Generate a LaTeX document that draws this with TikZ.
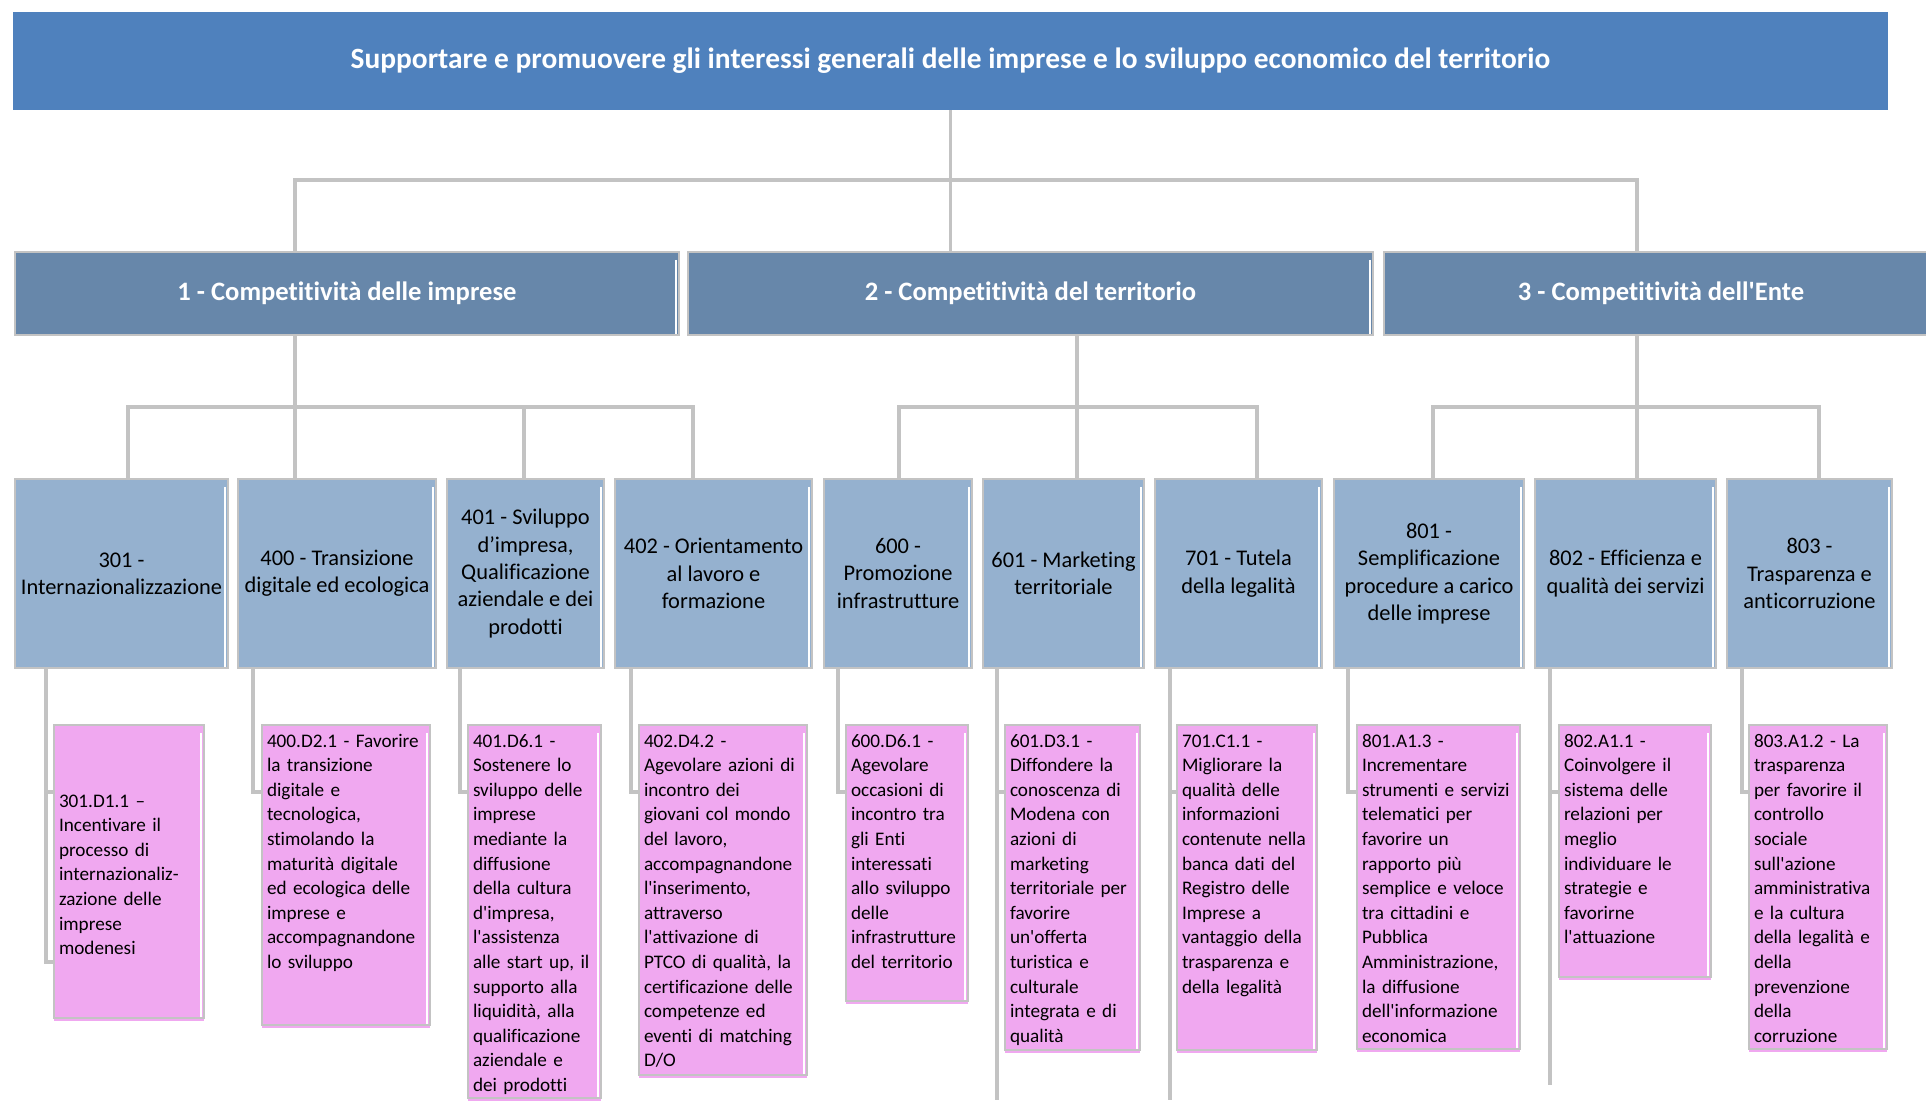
\documentclass[tikz,border=0pt]{standalone}
\usepackage{fontspec}
\newfontfamily\calib{Carlito}[Ligatures=NoCommon]
\usetikzlibrary{shadows}
\definecolor{goalblue}{HTML}{4F81BD}
\definecolor{areablue}{HTML}{6787AA}
\definecolor{progblue}{HTML}{95B1CF}
\definecolor{objpink}{HTML}{F0A8F0}
\definecolor{linegray}{HTML}{C3C3C3}

\begin{document}
\begin{tikzpicture}[x=0.5pt,y=-0.5pt,
                    every node/.style={inner sep=0pt, outer sep=0pt},
                    glint/.style={path picture={\draw[white, line width=0.8pt]
                                 ([xshift=-1.6pt,yshift=-4pt]path picture bounding box.north east) -- ([xshift=-1.6pt]path picture bounding box.south east);}},
                    goal/.style={anchor=north west, fill=goalblue, text=white, minimum width=937.5pt, minimum height=49pt,
                                 font=\calib\bfseries\fontsize{14.7}{17}\selectfont},
                    area/.style={anchor=north west, fill=areablue, draw=linegray, line width=1.2pt, text=white, minimum height=41.5pt,
                                 glint, font=\calib\bfseries\fontsize{13.3}{16}\selectfont},
                    prog/.style={anchor=north west, fill=progblue, draw=linegray, line width=1.2pt, align=center, minimum height=94.5pt,
                                 glint, font=\calib\fontsize{11.2}{13.7}\selectfont},
                    obj/.style 2 args={anchor=north west, fill=objpink, draw=linegray, line width=1.2pt, align=left,
                                 inner xsep=2.5pt, text width=#1, text height=11pt, text depth=#2, glint,
                                 font=\calib\fontsize{9.6}{12.3}\selectfont,
                                 drop shadow={shadow xshift=0pt, shadow yshift=-1.5pt, fill=objpink, opacity=1}},
                    conn/.style={draw=linegray, line width=1.7pt}]
\useasboundingbox (0,0) rectangle (1926,1100);

\node[goal] (goal) at (13,12) {Supportare e promuovere gli interessi generali delle imprese e lo sviluppo economico del territorio};

\node[area, minimum width=332pt] (A1) at (15,252) {1 - Competitività delle imprese};
\node[area, minimum width=342.5pt] (A2) at (688,252) {2 - Competitività del territorio};
\node[area, minimum width=277pt] (A3) at (1384,252) {3 - Competitività dell'Ente};

\node[prog, minimum width=106.5pt] (B1) at (15,479) {301 -\\Internazionalizzazione};
\node[prog, minimum width=99pt] (B2) at (238,479) {400 - Transizione\\digitale ed ecologica};
\node[prog, minimum width=78.5pt] (B3) at (447,479) {401 - Sviluppo\\d’impresa,\\Qualificazione\\aziendale e dei\\prodotti};
\node[prog, minimum width=98.5pt] (B4) at (615,479) {402 - Orientamento\\al lavoro e\\formazione};
\node[prog, minimum width=74pt] (B5) at (824,479) {600 -\\Promozione\\infrastrutture};
\node[prog, minimum width=80.5pt] (B6) at (983,479) {601 - Marketing\\territoriale};
\node[prog, minimum width=83.5pt] (B7) at (1155,479) {701 - Tutela\\della legalità};
\node[prog, minimum width=95pt] (B8) at (1334,479) {801 -\\Semplificazione\\procedure a carico\\delle imprese};
\node[prog, minimum width=90.5pt] (B9) at (1535,479) {802 - Efficienza e\\qualità dei servizi};
\node[prog, minimum width=82.5pt] (B10) at (1727,479) {803 -\\Trasparenza e\\anticorruzione};

\node[obj={70pt}{105.5pt}, text height=41pt] (C1) at (54,725) {301.D1.1 –\\Incentivare il\\processo di\\internazionaliz-\\zazione delle\\imprese\\modenesi};
\node[obj={79pt}{139pt}] (C2) at (262,725) {400.D2.1 - Favorire\\la transizione\\digitale e\\tecnologica,\\stimolando la\\maturità digitale\\ed ecologica delle\\imprese e\\accompagnandone\\lo sviluppo};
\node[obj={61.5pt}{175.5pt}] (C3) at (468,725) {401.D6.1 -\\Sostenere lo\\sviluppo delle\\imprese\\mediante la\\diffusione\\della cultura\\d'impresa,\\l'assistenza\\alle start up, il\\supporto alla\\liquidità, alla\\qualificazione\\aziendale e\\dei prodotti};
\node[obj={79pt}{164pt}] (C4) at (639,725) {402.D4.2 -\\Agevolare azioni di\\incontro dei\\giovani col mondo\\del lavoro,\\accompagnandone\\l'inserimento,\\attraverso\\l'attivazione di\\PTCO di qualità, la\\certificazione delle\\competenze ed\\eventi di matching\\D/O};
\node[obj={56pt}{127pt}] (C5) at (846,725) {600.D6.1 -\\Agevolare\\occasioni di\\incontro tra\\gli Enti\\interessati\\allo sviluppo\\delle\\infrastrutture\\del territorio};
\node[obj={62.5pt}{151.5pt}] (C6) at (1005,725) {601.D3.1 -\\Diffondere la\\conoscenza di\\Modena con\\azioni di\\marketing\\territoriale per\\favorire\\un'offerta\\turistica e\\culturale\\integrata e di\\qualità};
\node[obj={65pt}{151.5pt}] (C7) at (1177,725) {701.C1.1 -\\Migliorare la\\qualità delle\\informazioni\\contenute nella\\banca dati del\\Registro delle\\Imprese a\\vantaggio della\\trasparenza e\\della legalità};
\node[obj={76.5pt}{151pt}] (C8) at (1357,725) {801.A1.3 -\\Incrementare\\strumenti e servizi\\telematici per\\favorire un\\rapporto più\\semplice e veloce\\tra cittadini e\\Pubblica\\Amministrazione,\\la diffusione\\dell'informazione\\economica};
\node[obj={71pt}{115pt}] (C9) at (1559,725) {802.A1.1 -\\Coinvolgere il\\sistema delle\\relazioni per\\meglio\\individuare le\\strategie e\\favorirne\\l'attuazione};
\node[obj={64pt}{151pt}] (C10) at (1749,725) {803.A1.2 - La\\trasparenza\\per favorire il\\controllo\\sociale\\sull'azione\\amministrativa\\e la cultura\\della legalità e\\della\\prevenzione\\della\\corruzione};

\foreach \a/\x in {A1/295,A3/1637}
  \draw[conn] (goal.south) |- (\x,180) -- (\a.north -| \x,0);
\draw[conn] (goal.south) -- (A2.north -| goal.south);

\foreach \b/\x in {B1/128,B2/295,B3/524,B4/693}
  \draw[conn] (A1.south -| 295,0) |- (\x,407) -- (\b.north -| \x,0);
\foreach \b/\x in {B5/899,B6/1077,B7/1257}
  \draw[conn] (A2.south -| 1077,0) |- (\x,407) -- (\b.north -| \x,0);
\foreach \b/\x in {B8/1433,B9/1637,B10/1819}
  \draw[conn] (A3.south -| 1637,0) |- (\x,407) -- (\b.north -| \x,0);

\foreach \b/\c/\d in {B1/C1/15.5pt,B2/C2/7.5pt,B3/C3/6.5pt,B4/C4/8pt,B5/C5/7pt,B6/C6/7pt,B7/C7/7.5pt,B8/C8/7pt,B9/C9/7.5pt,B10/C10/7.5pt}
  \draw[conn] ([xshift=\d]\b.south west) |- ([yshift=-33.5pt]\c.north west);
\draw[conn] ([xshift=15.5pt]B1.south west) |- ([yshift=-118.5pt]C1.north west);
\draw[conn] ([xshift=7pt]B6.south west) -- ++(0,432);
\draw[conn] ([xshift=7.5pt]B7.south west) -- ++(0,432);
\draw[conn] ([xshift=7.5pt]B9.south west) -- ++(0,417);
\end{tikzpicture}
\end{document}
